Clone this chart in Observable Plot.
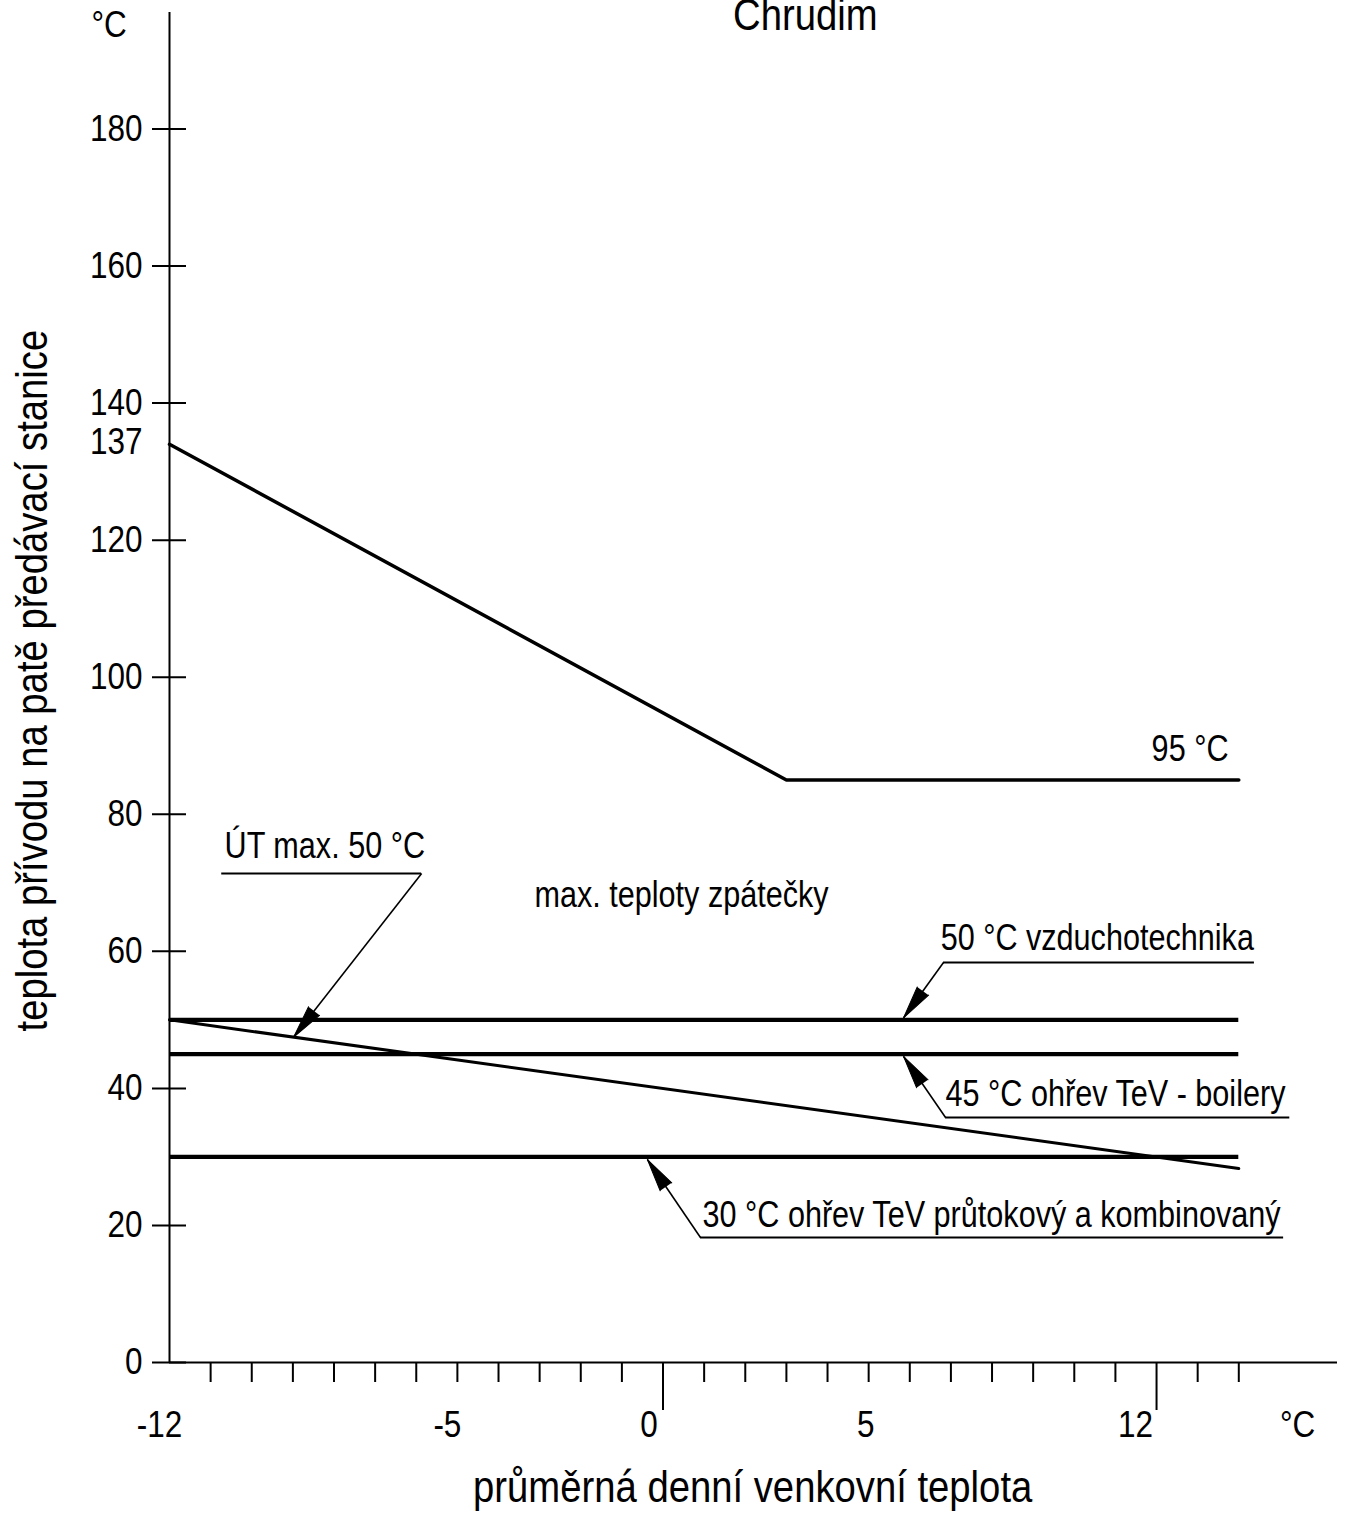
<!DOCTYPE html>
<html>
<head>
<meta charset="utf-8">
<script src="https://cdn.jsdelivr.net/npm/d3@7"></script>
<script src="https://cdn.jsdelivr.net/npm/@observablehq/plot@0.6"></script>
<style>
  html, body { margin: 0; padding: 0; background: #fff; }
  #chart svg { display: block; }
</style>
</head>
<body>
<div id="chart"></div>
<script>
// ---------- data ----------
const title = "Chrudim";
const xLabel = "průměrná denní venkovní teplota";
const yLabel = "teplota přívodu na patě předávací stanice";
const unit = "°C";

const yTicks = [0, 20, 40, 60, 80, 100, 120, 140, 160, 180];
const xMinorTicks = [-11, -10, -9, -8, -7, -6, -5, -4, -3, -2, -1, 1, 2, 3, 4, 5, 6, 7, 8, 9, 10, 11, 13, 14];
const xMajorTicks = [0, 12];
const xTickLabels = [-12, -5, 0, 5, 12];

// supply temperature curve (flow)
const supplyX = [-12, 3, 14];
const supplyY = [134, 85, 85];
const supplyStartLabel = "137";
const supplyEndLabel = "95 °C";

// max. return temperatures (horizontal levels)
const returnLevels = [50, 45, 30];
const returnX = [-12, 14];

// ÚT return line
const utX = [-12, 14];
const utY = [50, 28.3];

const groupLabel = "max. teploty zpátečky";
const annoTexts = [
  "ÚT max. 50 °C",
  "50 °C vzduchotechnika",
  "45 °C ohřev TeV - boilery",
  "30 °C ohřev TeV průtokový a kombinovaný"
];

// ---------- layout ----------
const W = 1346, H = 1515;
const M = {top: 12, right: 9, bottom: 153, left: 169};
const xDomain = [-12, 16.4];
const yDomain = [0, 197];
const kx = (W - M.left - M.right) / (xDomain[1] - xDomain[0]);
const ky = (H - M.top - M.bottom) / (yDomain[1] - yDomain[0]);

// annotation geometry (data units): text start, underline, leader tail & arrow tip
const annoLayout = [
  {tx: -10.66, ty: 75.3, lx1: -10.73, lx2: -5.87, ly: 71.36, tailX: -5.87, tailY: 71.36, tipX: -8.98, tipY: 47.5},
  {tx: 6.75,  ty: 61.87, lx1: 6.82,  lx2: 14.38, ly: 58.37, tailX: 6.82,  tailY: 58.37, tipX: 5.85, tipY: 50.3},
  {tx: 6.87,  ty: 39.11, lx1: 6.87,  lx2: 15.24, ly: 35.75, tailX: 6.87,  tailY: 35.75, tipX: 5.85, tipY: 44.65},
  {tx: 0.96,  ty: 21.45, lx1: 0.91,  lx2: 15.09, ly: 18.24, tailX: 0.91,  tailY: 18.24, tipX: -0.38, tipY: 29.62}
];
const annos = annoTexts.map((text, i) => ({text, ...annoLayout[i]}));
// pixel offsets of the x tick labels relative to their ticks
const xLabelDx = [-10, -10, -14, -3, -21];
const xLabels = xTickLabels.map((v, i) => ({pos: v + xLabelDx[i] / kx, text: String(v)}));

const supply = supplyX.map((x, i) => ({x, y: supplyY[i]}));
const ut = utX.map((x, i) => ({x, y: utY[i]}));
const angle = d => {
  const sdx = (d.tipX - d.tailX) * kx;
  const sdy = -(d.tipY - d.tailY) * ky;
  return Math.atan2(sdx, -sdy) * 180 / Math.PI;
};

const FONT = "'Liberation Sans', Arial, sans-serif";
const NARROW = 0.85; // emulate a narrow grotesque face

const chart = Plot.plot({
  width: W,
  height: H,
  marginTop: M.top,
  marginRight: M.right,
  marginBottom: M.bottom,
  marginLeft: M.left,
  style: {fontFamily: FONT, fontSize: "37px", color: "black", background: "white"},
  x: {domain: xDomain, axis: null},
  y: {domain: yDomain, axis: null},
  marks: [
    // axes
    Plot.ruleX([xDomain[0]], {strokeWidth: 2}),
    Plot.ruleY([0], {strokeWidth: 2}),
    Plot.axisY(yTicks, {tickSize: 34, dx: 17, strokeWidth: 2, fill: "none", label: null, tickFormat: () => ""}),
    Plot.axisX(xMinorTicks, {tickSize: 20, strokeWidth: 2, fill: "none", label: null, tickFormat: () => ""}),
    Plot.axisX(xMajorTicks, {tickSize: 48, strokeWidth: 2, fill: "none", label: null, tickFormat: () => ""}),
    Plot.text(yTicks, {x: xDomain[0], y: d => d, text: d => String(d), textAnchor: "end", dx: -27, fontSize: 37}),
    Plot.text(xLabels, {x: "pos", y: 0, text: "text", dy: 63, fontSize: 37}),
    Plot.text([unit], {x: 15.43, y: 0, text: d => d, dy: 63, fontSize: 37}),
    Plot.text([unit], {x: -13.47, y: 195.1, text: d => d, fontSize: 37}),
    Plot.text([supplyStartLabel], {x: xDomain[0], y: supplyY[0], text: d => d, textAnchor: "end", dx: -27, dy: -2, fontSize: 37}),
    // titles
    Plot.text([title], {x: 3.46, frameAnchor: "top", text: d => d, textAnchor: "middle", lineAnchor: "bottom", dy: 17, fontSize: 45}),
    Plot.text([xLabel], {x: 2.18, y: 0, text: d => d, dy: 125, fontSize: 45}),
    Plot.text([yLabel], {frameAnchor: "left", y: 99.5, text: d => d, textAnchor: "middle", rotate: -90, dx: -137, fontSize: 45}),
    // data lines
    Plot.line(supply, {x: "x", y: "y", strokeWidth: 3.5, strokeLinejoin: "miter"}),
    Plot.text([supplyEndLabel], {x: 13.75, y: 89.45, text: d => d, textAnchor: "end", fontSize: 36}),
    Plot.ruleY(returnLevels, {x1: returnX[0], x2: returnX[1], strokeWidth: 4.2}),
    Plot.line(ut, {x: "x", y: "y", strokeWidth: 3}),
    // annotations
    Plot.text([groupLabel], {x: 0.45, y: 68.15, text: d => d, fontSize: 36}),
    Plot.ruleY(annos, {y: "ly", x1: "lx1", x2: "lx2", strokeWidth: 1.8}),
    Plot.link(annos, {x1: "tailX", y1: "tailY", x2: "tipX", y2: "tipY", strokeWidth: 1.6}),
    Plot.vector(annos, {x: "tipX", y: "tipY", rotate: angle, length: 33, r: 7, shape: "spike", anchor: "end", fill: "black", stroke: "black", strokeWidth: 1}),
    Plot.text(annos, {x: "tx", y: "ty", text: "text", textAnchor: "start", fontSize: 36})
  ]
});
document.getElementById("chart").appendChild(chart);
// condense every text horizontally, like the narrow face of the original
chart.querySelectorAll("text").forEach(t => {
  const L = t.getComputedTextLength();
  if (L > 0) {
    t.setAttribute("textLength", (L * NARROW).toFixed(1));
    t.setAttribute("lengthAdjust", "spacingAndGlyphs");
  }
});
</script>
</body>
</html>
